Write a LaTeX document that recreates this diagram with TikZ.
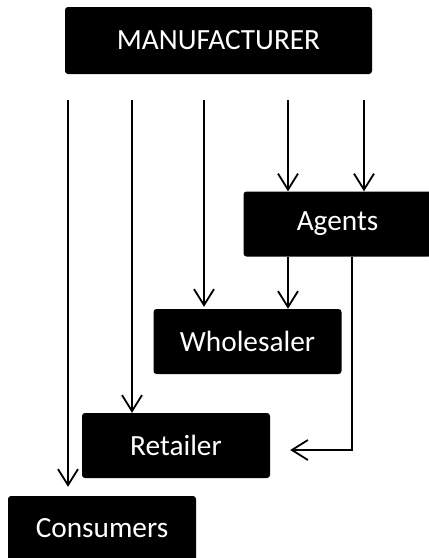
\documentclass[tikz,border=0pt]{standalone}
\usepackage{fontspec}
\setmainfont{Carlito}
\usetikzlibrary{arrows.meta}
\begin{document}
\begin{tikzpicture}[
                        x=1pt, y=-1pt,
                        >={Straight Barb[length=16pt,width=20pt]},
                        block/.style={rectangle, fill=black, text=white, rounded corners=3pt,
                            minimum width=188pt, minimum height=65pt, font=\fontsize{29.3}{35}\selectfont},
                        link/.style={->, line width=1.8pt}
                    ]
                    \useasboundingbox (0,0) rectangle (429,558);
                    % Blocks
                    \node [block, minimum width=307pt, minimum height=67pt] (maker) at (218.5,40.5) {MANUFACTURER};
                    \node [block] (agents) at (337.5,224) {Agents};
                    \node [block] (whole) at (247.5,341.5) {Wholesaler};
                    \node [block] (retail) at (176,445.5) {Retailer};
                    \node [block] (cons) at (102,528.5) {Consumers};

                    % Starting points below the manufacturer
                    \coordinate (s1) at (68,100);
                    \coordinate (s2) at (132,100);
                    \coordinate (s3) at (204,100);
                    \coordinate (s4) at (288,100);
                    \coordinate (s5) at (364,100);

                    % Connections
                    \draw [link, shorten >=9pt] (s1) -- (s1 |- cons.north);
                    \draw [link] (s2) -- (s2 |- retail.north);
                    \draw [link, shorten >=2pt] (s3) -- (s3 |- whole.north);
                    \draw [link] (s4) -- (s4 |- agents.north);
                    \draw [link] (s5) -- (s5 |- agents.north);
                    \draw [link] (agents.south -| s4) -- (s4 |- whole.north);
                    \draw [link, shorten >=20pt] ([xshift=14.5pt]agents.south) |- ([yshift=-4.5pt]retail.east);
                \end{tikzpicture}
\end{document}
